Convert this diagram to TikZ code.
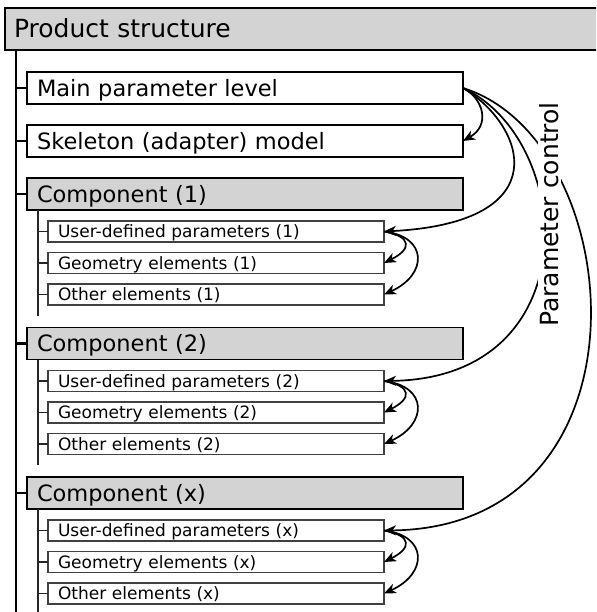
\documentclass[tikz,border=0pt]{standalone}
\usepackage{fontspec}
\setmainfont{DejaVu Sans}
\usetikzlibrary{arrows.meta}
\definecolor{boxgray}{RGB}{211,211,211}

\begin{document}
\begin{tikzpicture}[x=1pt, y=-1pt,
    topbox/.style={rectangle, draw=black, line width=2.4pt, fill=boxgray, anchor=north west, outer sep=0pt, minimum height=42pt, text width=590pt, inner xsep=9pt, inner ysep=0pt, align=left, font=\fontsize{25}{30}\selectfont, text height=22pt, text depth=4pt},
    box/.style={rectangle, draw=black, line width=1.8pt, fill=white, anchor=north west, outer sep=0pt, minimum height=32pt, text width=416pt, inner xsep=10pt, inner ysep=0pt, align=left, font=\fontsize{22.5}{27}\selectfont, text height=20pt, text depth=3.5pt},
    compbox/.style={box, fill=boxgray},
    smallbox/.style={rectangle, draw=black!75, line width=1.2pt, fill=white, anchor=north west, outer sep=0pt, minimum height=21pt, text width=316pt, inner xsep=10pt, inner ysep=0pt, align=left, font=\fontsize{17}{20}\selectfont, text height=15pt, text depth=2.6pt},
    trunk/.style={line width=2.2pt},
    subtrunk/.style={line width=1.3pt, draw=black!85},
    arrow/.style={-{Stealth[length=12pt, width=10pt, inset=3.5pt]}, line width=1.7pt},
    ctrllabel/.style={rotate=90, fill=white, inner sep=1.5pt, font=\fontsize{25}{30}\selectfont, text height=19pt, text depth=1pt}
]
\clip (0,0) rectangle (596,612);

% Trunk lines
\coordinate (trunktop) at (16,50);
\coordinate (trunkend) at (16,612);
\coordinate (sub1end) at (38,316);
\coordinate (sub2end) at (38,465);
\coordinate (subxend) at (38,612);
\draw[trunk] (trunktop) -- (trunkend);

% Top level
\node[topbox] (product) at (5,8) {Product structure};
\node[box] (mainpar) at (27,72) {Main parameter level};
\node[box] (skeleton) at (27,125) {Skeleton (adapter) model};

% Component (1)
\node[compbox] (comp1) at (27,178) {Component (1)};
\node[smallbox] (user1) at (48,221) {User-defined parameters (1)};
\node[smallbox] (geom1) at (48,252.5) {Geometry elements (1)};
\node[smallbox] (other1) at (48,284) {Other elements (1)};

% Component (2)
\node[compbox] (comp2) at (27,327.5) {Component (2)};
\node[smallbox] (user2) at (48,370.5) {User-defined parameters (2)};
\node[smallbox] (geom2) at (48,402) {Geometry elements (2)};
\node[smallbox] (other2) at (48,433.5) {Other elements (2)};

% Component (x)
\node[compbox] (compx) at (27,477) {Component (x)};
\node[smallbox] (userx) at (48,520) {User-defined parameters (x)};
\node[smallbox] (geomx) at (48,551.5) {Geometry elements (x)};
\node[smallbox] (otherx) at (48,583) {Other elements (x)};

% Ticks on main trunk
\draw[trunk] (mainpar.west) -- (mainpar.west -| trunktop);
\draw[trunk] (skeleton.west) -- (skeleton.west -| trunktop);
\draw[trunk] (comp1.west) -- (comp1.west -| trunktop);
\draw[trunk] (comp2.west) -- (comp2.west -| trunktop);
\draw[trunk] (compx.west) -- (compx.west -| trunktop);

% Sub trunks and ticks
\draw[subtrunk] (comp1.south -| sub1end) -- (sub1end);
\draw[subtrunk] (user1.west) -- (user1.west -| sub1end);
\draw[subtrunk] (geom1.west) -- (geom1.west -| sub1end);
\draw[subtrunk] (other1.west) -- (other1.west -| sub1end);
\draw[subtrunk] (comp2.south -| sub2end) -- (sub2end);
\draw[subtrunk] (user2.west) -- (user2.west -| sub2end);
\draw[subtrunk] (geom2.west) -- (geom2.west -| sub2end);
\draw[subtrunk] (other2.west) -- (other2.west -| sub2end);
\draw[subtrunk] (compx.south -| subxend) -- (subxend);
\draw[subtrunk] (userx.west) -- (userx.west -| subxend);
\draw[subtrunk] (geomx.west) -- (geomx.west -| subxend);
\draw[subtrunk] (otherx.west) -- (otherx.west -| subxend);

% Parameter control arrows
\draw[arrow] (mainpar.east) .. controls +(20,10) and +(28,-16) .. (skeleton.east);
\draw[arrow] (mainpar.east) .. controls +(62,37) and +(176,-9) .. (user1.east);
\draw[arrow] (mainpar.east) .. controls +(112,52) and +(206,-3) .. (user2.east);
\draw[arrow] (mainpar.east) .. controls +(167,52) and +(276,-3) .. (userx.east);

\draw[arrow] (user1.east) .. controls +(28,5) and +(28,-14) .. (geom1.east);
\draw[arrow] (user1.east) .. controls +(44,5) and +(44,-20) .. (other1.east);
\draw[arrow] (user2.east) .. controls +(28,5) and +(28,-14) .. (geom2.east);
\draw[arrow] (user2.east) .. controls +(44,5) and +(44,-20) .. (other2.east);
\draw[arrow] (userx.east) .. controls +(28,5) and +(28,-14) .. (geomx.east);
\draw[arrow] (userx.east) .. controls +(44,5) and +(44,-20) .. (otherx.east);

% Side label
\node[ctrllabel] (ctrl) at (549,214.5) {Parameter control};

\end{tikzpicture}
\end{document}
